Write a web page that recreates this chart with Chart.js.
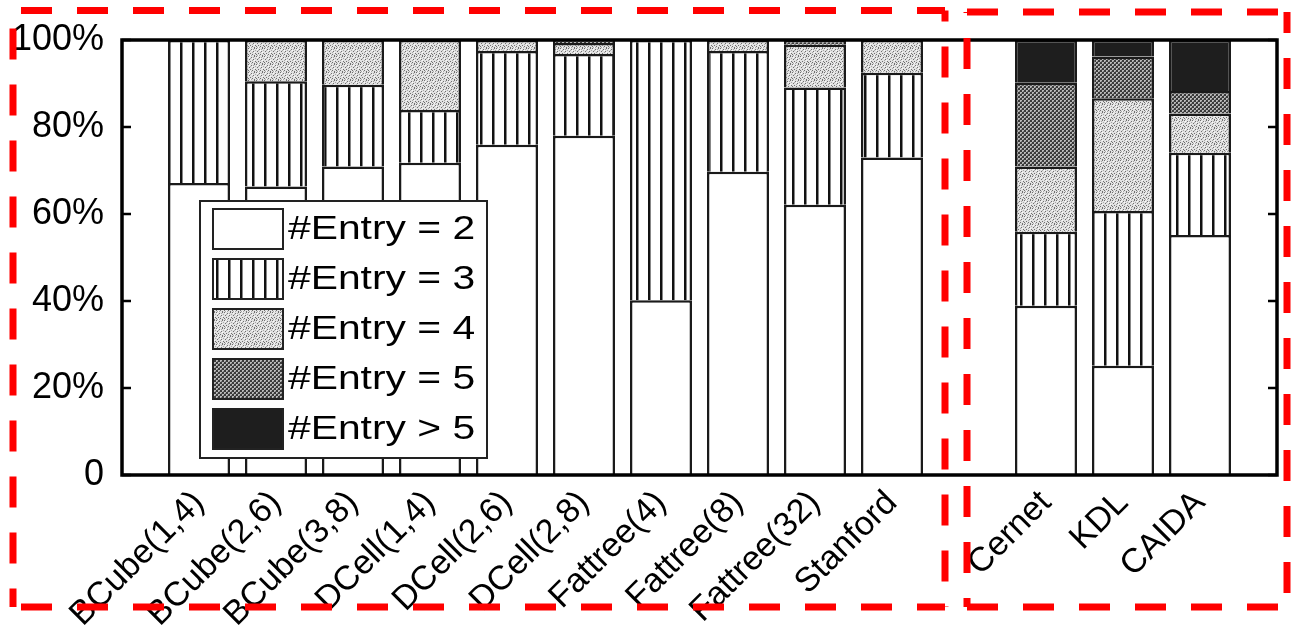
<!DOCTYPE html>
<html>
<head>
<meta charset="utf-8">
<script src="https://cdn.jsdelivr.net/npm/chart.js@4.4.0/dist/chart.umd.min.js"></script>
<style>
  html, body { margin: 0; padding: 0; background: #fff; }
  #wrap { width: 1291px; height: 625px; }
</style>
</head>
<body>
<div id="wrap"><canvas id="entryChart" width="1291" height="625"></canvas></div>
<script>
// categories (empty slots are the gaps at both ends and between groups)
const categories = ['', 'BCube(1,4)', 'BCube(2,6)', 'BCube(3,8)', 'DCell(1,4)', 'DCell(2,6)', 'DCell(2,8)',
  'Fattree(4)', 'Fattree(8)', 'Fattree(32)', 'Stanford', '', 'Cernet', 'KDL', 'CAIDA', ''];

// share of rules (%) per number of entries
const entry2 = [null, 67.1, 66.3, 70.9, 71.8, 75.9, 78.0, 40.2, 69.7, 62.1, 73.0, null, 38.9, 25.1, 55.2, null];
const entry3 = [null, 32.9, 24.2, 18.8, 12.1, 21.6, 18.8, 59.8, 27.8, 27.0, 19.5, null, 17.0, 35.6, 18.9, null];
const entry4 = [null, 0, 9.5, 10.3, 16.1, 2.5, 2.5, 0, 2.5, 9.8, 7.5, null, 15.0, 25.9, 9.0, null];
const entry5 = [null, 0, 0, 0, 0, 0, 0.7, 0, 0, 1.1, 0, null, 19.3, 9.6, 5.2, null];
const entryMore = [null, 0, 0, 0, 0, 0, 0, 0, 0, 0, 0, null, 9.8, 3.8, 11.7, null];

const seriesLabels = ['#Entry = 2', '#Entry = 3', '#Entry = 4', '#Entry = 5', '#Entry > 5'];
const yTicks = [0, 20, 40, 60, 80, 100];

const FONT = '"Liberation Sans", Arial, sans-serif';

function makePattern(w, h, draw) {
  const c = document.createElement('canvas');
  c.width = w; c.height = h;
  const g = c.getContext('2d');
  draw(g);
  return g.createPattern(c, 'repeat');
}

const ctx = document.getElementById('entryChart').getContext('2d');

const white = '#ffffff';
const stripes = makePattern(12, 12, g => {
  g.fillStyle = '#fff'; g.fillRect(0, 0, 12, 12);
  g.fillStyle = '#111'; g.fillRect(0, 0, 2.5, 12);
});
const lightDots = makePattern(8, 8, g => {
  g.fillStyle = '#e2e2e2'; g.fillRect(0, 0, 8, 8);
  g.fillStyle = '#707070';
  [[0,0],[3,1],[6,0],[1,3],[5,3],[2,5],[7,5],[0,6],[4,6],[6,7]].forEach(p => g.fillRect(p[0], p[1], 1, 1));
  g.fillStyle = '#a8a8a8';
  [[2,2],[7,2],[4,4],[1,7],[5,1],[3,7]].forEach(p => g.fillRect(p[0], p[1], 1, 1));
  g.fillStyle = '#fafafa';
  [[1,1],[4,2],[6,4],[2,7]].forEach(p => g.fillRect(p[0], p[1], 1, 1));
});
const darkDots = makePattern(4, 4, g => {
  g.fillStyle = '#3a3a3a'; g.fillRect(0, 0, 4, 4);
  g.fillStyle = '#b8b8b8';
  g.fillRect(0, 0, 2, 2); g.fillRect(2, 2, 2, 2);
  g.fillStyle = '#777';
  g.fillRect(1, 1, 1, 1); g.fillRect(3, 3, 1, 1);
});
const black = '#1e1e1e';
const fills = [white, stripes, lightDots, darkDots, black];

function ds(i, data) {
  return {
    label: seriesLabels[i],
    data: data,
    backgroundColor: fills[i],
    borderColor: '#1a1a1a',
    borderWidth: 2.5,
    categoryPercentage: 1,
    barPercentage: 0.805
  };
}

// frame, inner ticks, legend and the red dashed boxes
const decor = {
  id: 'decor',
  afterDraw(chart) {
    const c = chart.ctx;
    const a = chart.chartArea;
    const y = chart.scales.y;
    c.save();
    c.strokeStyle = '#000';
    c.lineWidth = 3.5;
    c.strokeRect(a.left, a.top, a.right - a.left, a.bottom - a.top);
    c.lineWidth = 2.5;
    yTicks.forEach(v => {
      const py = y.getPixelForValue(v);
      c.beginPath();
      c.moveTo(a.left, py); c.lineTo(a.left + 9, py);
      c.moveTo(a.right, py); c.lineTo(a.right - 9, py);
      c.stroke();
    });

    // legend
    const lx = 200, ly = 201, lw = 287, lh = 257;
    c.fillStyle = '#fff';
    c.fillRect(lx, ly, lw, lh);
    c.strokeStyle = '#222';
    c.lineWidth = 2;
    c.strokeRect(lx, ly, lw, lh);
    c.font = '34px ' + FONT;
    c.textBaseline = 'middle';
    c.textAlign = 'left';
    chart.data.datasets.forEach((d, i) => {
      const sy = 209 + i * 50;
      c.fillStyle = d.backgroundColor;
      c.fillRect(213, sy, 70, 40);
      c.strokeStyle = '#222';
      c.lineWidth = 2;
      c.strokeRect(213, sy, 70, 40);
      c.fillStyle = '#000';
      c.save();
      c.translate(288, sy + 21);
      c.scale(1.2, 1);
      c.fillText(d.label, 0, 0);
      c.restore();
    });

    // red dashed boxes
    c.strokeStyle = '#ff0000';
    c.lineWidth = 7;
    c.setLineDash([31, 25]);
    const line = (x1, y1, x2, y2, off) => {
      c.lineDashOffset = off;
      c.beginPath(); c.moveTo(x1, y1); c.lineTo(x2, y2); c.stroke();
    };
    line(13, 10.5, 945, 10.5, 48);
    line(13, 10.5, 13, 607, 38);
    line(13, 607, 945, 607, 48);
    line(945, 10.5, 945, 607, 20);
    line(967, 12, 1288, 12, 0);
    line(967, 12, 967, 607, 30);
    line(967, 607, 1288, 607, 0);
    line(1287, 12, 1287, 607, 10);
    c.restore();
  }
};

new Chart(ctx, {
  type: 'bar',
  data: {
    labels: categories,
    datasets: [ds(0, entry2), ds(1, entry3), ds(2, entry4), ds(3, entry5), ds(4, entryMore)]
  },
  options: {
    responsive: false,
    animation: false,
    layout: { padding: { top: 40, right: 14, left: 0, bottom: 0 } },
    plugins: { legend: { display: false }, tooltip: { enabled: false } },
    scales: {
      x: {
        stacked: true,
        offset: false,
        grid: { display: false },
        border: { display: false },
        afterFit: s => { s.height = 150; s.paddingLeft = 0; s.paddingRight = 0; },
        ticks: {
          autoSkip: false,
          maxRotation: 45,
          minRotation: 45,
          padding: 0,
          color: '#000',
          font: { family: FONT, size: 34 }
        }
      },
      y: {
        stacked: true,
        min: 0,
        max: 100,
        grid: { display: false },
        border: { display: false },
        afterFit: s => { s.width = 122; s.paddingTop = 0; s.paddingBottom = 0; },
        afterBuildTicks: s => { s.ticks = yTicks.map(v => ({ value: v })); },
        ticks: {
          padding: 10,
          color: '#000',
          font: { family: FONT, size: 36 },
          callback: v => v === 0 ? '0' : v + '%'
        }
      }
    }
  },
  plugins: [decor]
});
</script>
</body>
</html>
